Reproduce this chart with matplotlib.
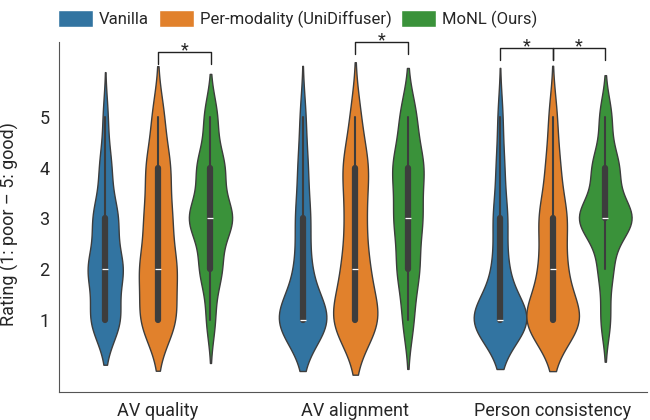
import numpy as np
import pandas as pd
import matplotlib
matplotlib.use('Agg')
import matplotlib.pyplot as plt
import seaborn as sns
from matplotlib.patches import Patch

sns.set_style('white')
plt.rcParams['font.family'] = ['Roboto', 'DejaVu Sans']

criteria = ['AV quality', 'AV alignment', 'Person consistency']
methods = ['Vanilla', 'Per-modality (UniDiffuser)', 'MoNL (Ours)']
ratings = [1, 2, 3, 4, 5]

# votes for rating 1..5, one row per criterion (estimated from the figure)
vanilla_counts = [[30, 35, 25, 12, 5], [55, 15, 15, 10, 6], [58, 14, 14, 8, 5]]
permod_counts = [[30, 30, 22, 20, 10], [38, 20, 15, 20, 8], [42, 18, 20, 10, 6]]
monl_counts = [[8, 20, 40, 25, 12], [10, 20, 25, 28, 15], [8, 12, 45, 22, 10]]

# significance brackets: (criterion index, method a, method b)
sig_pairs = [(0, 1, 2), (1, 1, 2), (2, 0, 1), (2, 1, 2)]
sig_levels = [6.29, 6.49, 6.37, 6.37]

rows = []
for m, counts in zip(methods, [vanilla_counts, permod_counts, monl_counts]):
    for c, cnt in zip(criteria, counts):
        for r, n in zip(ratings, cnt):
            rows += [(c, m, r)] * n
df = pd.DataFrame(rows, columns=['criterion', 'method', 'rating'])

fig = plt.figure(figsize=(6.5, 4.2), dpi=100)
ax = fig.add_axes([0.091, 0.067, 0.905, 0.833])

sns.violinplot(data=df, x='criterion', y='rating', hue='method',
               order=criteria, hue_order=methods, palette='tab10',
               inner='box', linewidth=1, ax=ax, legend=False)

ax.set_xlim(-0.5, 2.48)
ax.set_ylim(-0.43, 6.49)
ax.set_yticks(ratings)
ax.set_xlabel('')
ax.set_ylabel('Rating (1: poor \u2013 5: good)', fontsize=13)
ax.yaxis.set_label_coords(-0.068, 0.48)
ax.tick_params(axis='both', labelsize=13)
for s in ['left', 'bottom']:
    ax.spines[s].set_color('#555555')
sns.despine(ax=ax)

offsets = [-0.267, 0.0, 0.267]
for (ci, a, b), lev in zip(sig_pairs, sig_levels):
    xa = ci + offsets[a]
    xb = ci + offsets[b]
    ax.plot([xa, xa, xb, xb], [lev - 0.24, lev, lev, lev - 0.24],
            color='#222222', lw=1, clip_on=False)
    ax.text((xa + xb) / 2, lev - 0.06, '*', ha='center', va='baseline',
            fontsize=13, clip_on=False)

cols = sns.color_palette('tab10', 3, desat=0.75)
handles = [Patch(facecolor=c, label=m) for c, m in zip(cols, methods)]
fig.legend(handles=handles, loc='upper left', bbox_to_anchor=(0.089, 0.977),
           ncol=3, frameon=False, fontsize=12, handlelength=2.1,
           handleheight=1.2, columnspacing=0.6, handletextpad=0.35,
           borderpad=0, borderaxespad=0)

fig.savefig('out.png', dpi=100)
